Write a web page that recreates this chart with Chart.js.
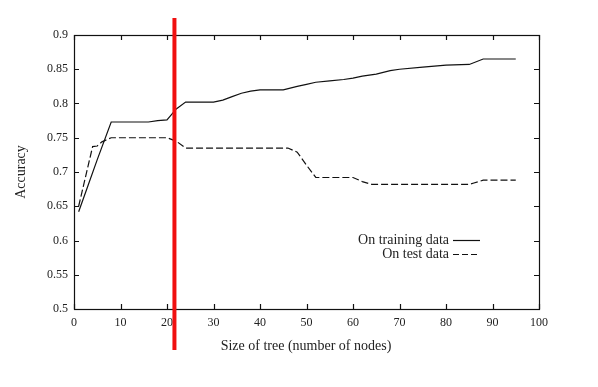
<!DOCTYPE html>
<html><head><meta charset="utf-8">
<script src="https://cdn.jsdelivr.net/npm/chart.js@4/dist/chart.umd.min.js"></script>
<style>html,body{margin:0;padding:0;background:#fff}canvas{display:block}</style>
</head><body>
<canvas id="c" width="598" height="387"></canvas>
<script>
const trainX = [1,3,5,8,16,18,20,22,24,30,32,34,36,38,40,45,48,50,52,55,58,60,62,65,68,70,75,80,85,88,95];
const trainY = [0.642,0.68,0.718,0.773,0.773,0.775,0.776,0.792,0.802,0.802,0.805,0.81,0.815,0.818,0.82,0.82,0.825,0.828,0.831,0.833,0.835,0.837,0.84,0.843,0.848,0.85,0.853,0.856,0.857,0.865,0.865];
const testX = [1,4,5,6,8,20,22,24,46,48,50,52,60,62,64,85,86,88,95];
const testY = [0.65,0.737,0.738,0.744,0.75,0.75,0.745,0.735,0.735,0.729,0.71,0.692,0.692,0.686,0.682,0.682,0.684,0.688,0.688];
const xTicks = [0,10,20,30,40,50,60,70,80,90,100];
const yTicks = [0.5,0.55,0.6,0.65,0.7,0.75,0.8,0.85,0.9];
const seriesNames = ['On training data','On test data'];
const redLineX = 21.6;
const xTitle = 'Size of tree (number of nodes)';
const yTitle = 'Accuracy';

const FONT = 'Liberation Serif';
const TXT = '#222';

const overlay = {
  id: 'overlay',
  afterDraw(chart) {
    const ctx = chart.ctx, xs = chart.scales.x, ys = chart.scales.y, a = chart.chartArea;
    ctx.save();
    ctx.strokeStyle = '#111'; ctx.lineWidth = 1.2; ctx.setLineDash([]);
    const L = 5;
    xTicks.forEach(v => {
      const px = Math.round(xs.getPixelForValue(v)) + 0.5;
      ctx.beginPath();
      ctx.moveTo(px, a.bottom); ctx.lineTo(px, a.bottom - L);
      ctx.moveTo(px, a.top); ctx.lineTo(px, a.top + L);
      ctx.stroke();
    });
    yTicks.forEach(v => {
      const py = Math.round(ys.getPixelForValue(v)) + 0.5;
      ctx.beginPath();
      ctx.moveTo(a.left, py); ctx.lineTo(a.left + L, py);
      ctx.moveTo(a.right, py); ctx.lineTo(a.right - L, py);
      ctx.stroke();
    });
    ctx.strokeRect(a.left + 0.5, a.top + 0.5, a.right - a.left, a.bottom - a.top);
    ctx.fillStyle = TXT;
    ctx.font = '14px "' + FONT + '"';
    ctx.textAlign = 'center'; ctx.textBaseline = 'middle';
    ctx.fillText(xTitle, 306, 346);
    ctx.save();
    ctx.translate(21, (a.top + a.bottom) / 2);
    ctx.rotate(-Math.PI / 2);
    ctx.fillText(yTitle, 0, 0);
    ctx.restore();
    ctx.textAlign = 'right';
    const lx = 449, ly = [240, 254];
    const dashes = [[], [6, 3]];
    seriesNames.forEach((n, i) => {
      ctx.fillStyle = TXT;
      ctx.fillText(n, lx, ly[i]);
      ctx.beginPath();
      ctx.setLineDash(dashes[i]);
      ctx.lineWidth = 1.2;
      ctx.moveTo(lx + 4, ly[i] + 0.5); ctx.lineTo(lx + 31, ly[i] + 0.5);
      ctx.stroke();
    });
    ctx.setLineDash([]);
    const rx = xs.getPixelForValue(redLineX);
    ctx.strokeStyle = '#f01010'; ctx.lineWidth = 4;
    ctx.beginPath(); ctx.moveTo(rx, 18); ctx.lineTo(rx, 350); ctx.stroke();
    ctx.restore();
  }
};

new Chart(document.getElementById('c'), {
  type: 'line',
  data: {
    datasets: [
      { label: seriesNames[0], data: trainX.map((x, i) => ({x, y: trainY[i]})),
        borderColor: '#111', borderWidth: 1.2, pointRadius: 0, tension: 0, fill: false },
      { label: seriesNames[1], data: testX.map((x, i) => ({x, y: testY[i]})),
        borderColor: '#111', borderWidth: 1.2, borderDash: [7, 3], pointRadius: 0, tension: 0, fill: false }
    ]
  },
  options: {
    responsive: false, animation: false,
    layout: { padding: { top: 35, right: 59, left: 0, bottom: 0 } },
    plugins: { legend: { display: false }, tooltip: { enabled: false } },
    scales: {
      x: {
        type: 'linear', min: 0, max: 100,
        afterBuildTicks: s => { s.ticks = xTicks.map(v => ({value: v})); },
        afterFit: s => { s.height = 78; },
        grid: { display: false, drawTicks: false },
        border: { display: false },
        ticks: { color: TXT, font: { family: FONT, size: 12 }, padding: 7, maxRotation: 0, autoSkip: false,
                 callback: v => String(v) }
      },
      y: {
        type: 'linear', min: 0.5, max: 0.9,
        afterBuildTicks: s => { s.ticks = yTicks.map(v => ({value: v})); },
        afterFit: s => { s.width = 74; },
        grid: { display: false, drawTicks: false },
        border: { display: false },
        ticks: { color: TXT, font: { family: FONT, size: 12 }, padding: 6, autoSkip: false,
                 callback: v => String(Math.round(v * 100) / 100) }
      }
    }
  },
  plugins: [overlay]
});
</script>
</body></html>
